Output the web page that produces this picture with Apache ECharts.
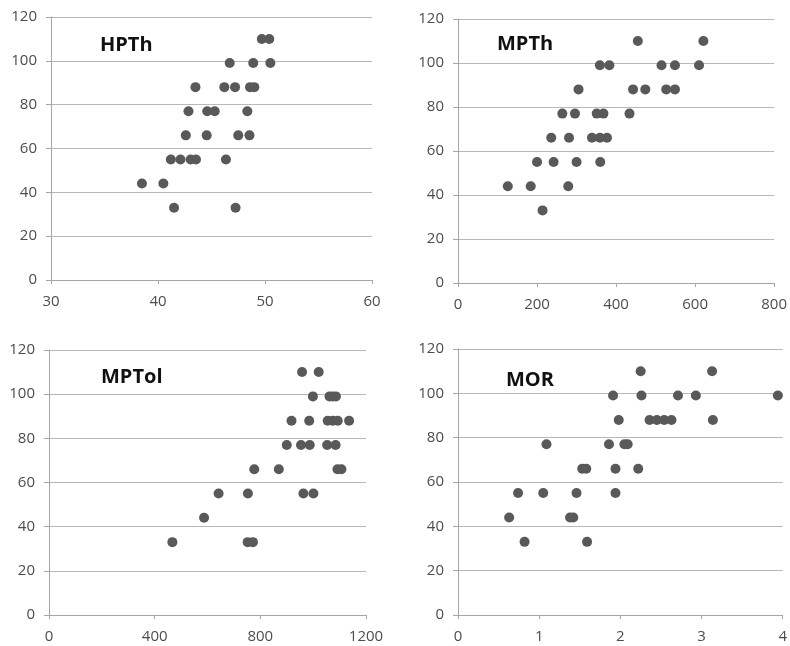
<!DOCTYPE html>
<html><head><meta charset="utf-8">
<script src="https://cdn.jsdelivr.net/npm/echarts@6/dist/echarts.min.js"></script>
<style>html,body{margin:0;padding:0;background:#fff}#c{width:790px;height:646px}</style>
</head><body><div id="c"></div>
<script>
// ---- data ----
const panelNames = ['HPTh', 'MPTh', 'MPTol', 'MOR'];

const hpthX = [49.7, 50.4, 46.7, 48.9, 50.5, 43.5, 46.2, 47.2, 48.6, 49.0, 42.85, 44.6, 45.3, 48.35, 42.6, 44.55, 47.5, 48.55, 41.2, 42.1, 43.05, 43.55, 46.35, 38.5, 40.5, 41.5, 47.25];
const hpthY = [110, 110, 99, 99, 99, 88, 88, 88, 88, 88, 77, 77, 77, 77, 66, 66, 66, 66, 55, 55, 55, 55, 55, 44, 44, 33, 33];

const mpthX = [455, 621, 359, 383, 515, 549, 610, 305, 443, 474, 527, 549, 264, 296, 351, 368, 434, 236, 281, 339, 359, 377, 200, 242, 300, 360, 126, 184, 279, 214];
const mpthY = [110, 110, 99, 99, 99, 99, 99, 88, 88, 88, 88, 88, 77, 77, 77, 77, 77, 66, 66, 66, 66, 66, 55, 55, 55, 55, 44, 44, 44, 33];

const mptolX = [958, 1021, 999, 1062, 1074, 1086, 918, 985, 1055, 1074, 1093, 1136, 900, 954, 987, 1053, 1085, 777, 870, 1092, 1107, 642, 753, 963, 1001, 587, 467, 752, 772];
const mptolY = [110, 110, 99, 99, 99, 99, 88, 88, 88, 88, 88, 88, 77, 77, 77, 77, 77, 66, 66, 66, 66, 55, 55, 55, 55, 44, 33, 33, 33];

const morX = [2.25, 3.13, 1.91, 2.26, 2.71, 2.93, 3.94, 1.98, 2.36, 2.45, 2.54, 2.63, 3.14, 1.09, 1.86, 2.05, 2.09, 1.53, 1.58, 1.94, 2.22, 0.74, 1.05, 1.46, 1.94, 0.63, 1.38, 1.42, 0.82, 1.59];
const morY = [110, 110, 99, 99, 99, 99, 99, 88, 88, 88, 88, 88, 88, 77, 77, 77, 77, 66, 66, 66, 66, 55, 55, 55, 55, 44, 44, 44, 33, 33];

const xMins = [30, 0, 0, 0];
const xMaxs = [60, 800, 1200, 4];
const xSteps = [10, 200, 400, 1];
const yMin = 0, yMax = 120, yStep = 20;

// ---- chart ----
const seriesData = [[hpthX, hpthY], [mpthX, mpthY], [mptolX, mptolY], [morX, morY]];
const grids = [
  {left: 51, top: 17, width: 321, height: 263},
  {left: 458, top: 19, width: 317, height: 264},
  {left: 49, top: 350, width: 317, height: 265},
  {left: 458, top: 349, width: 331, height: 266}
];
const titlePos = [[100, 45], [497, 44], [101, 377], [506, 380]];

const axisColor = '#a6a6a6';
const gridColor = '#b8b8b8';
const labelStyle = {color: '#4d4d4d', fontFamily: 'Open Sans', fontSize: 15};

const option = {
  backgroundColor: '#ffffff',
  animation: false,
  grid: grids.map(g => Object.assign({containLabel: false}, g)),
  xAxis: grids.map((g, i) => ({
    type: 'value', gridIndex: i, min: xMins[i], max: xMaxs[i], interval: xSteps[i],
    axisLine: {show: true, lineStyle: {color: axisColor, width: 1}},
    axisTick: {show: true, inside: false, length: 4, lineStyle: {color: axisColor}},
    splitLine: {show: false},
    axisLabel: Object.assign({margin: 14, showMaxLabel: true, showMinLabel: true, hideOverlap: false,
      formatter: v => String(v)}, labelStyle)
  })),
  yAxis: grids.map((g, i) => ({
    type: 'value', gridIndex: i, min: yMin, max: yMax, interval: yStep,
    axisLine: {show: true, lineStyle: {color: axisColor, width: 1}},
    axisTick: {show: true, inside: false, length: 5, lineStyle: {color: axisColor}},
    splitLine: {show: true, lineStyle: {color: gridColor, width: 1}},
    axisLabel: Object.assign({margin: 14, formatter: v => String(v)}, labelStyle)
  })),
  series: seriesData.map((d, i) => ({
    type: 'scatter', xAxisIndex: i, yAxisIndex: i,
    symbol: 'circle', symbolSize: 10,
    itemStyle: {color: '#595959', opacity: 1},
    data: d[0].map((x, k) => [x, d[1][k]])
  })),
  graphic: panelNames.map((n, i) => ({
    type: 'text', x: titlePos[i][0], y: titlePos[i][1], z: 100,
    style: {text: n, fill: '#111111', font: 'bold 20px "Open Sans"', align: 'left', verticalAlign: 'middle'}
  }))
};

const chart = echarts.init(document.getElementById('c'), null, {renderer: 'canvas'});
chart.setOption(option);
</script>
</body></html>
